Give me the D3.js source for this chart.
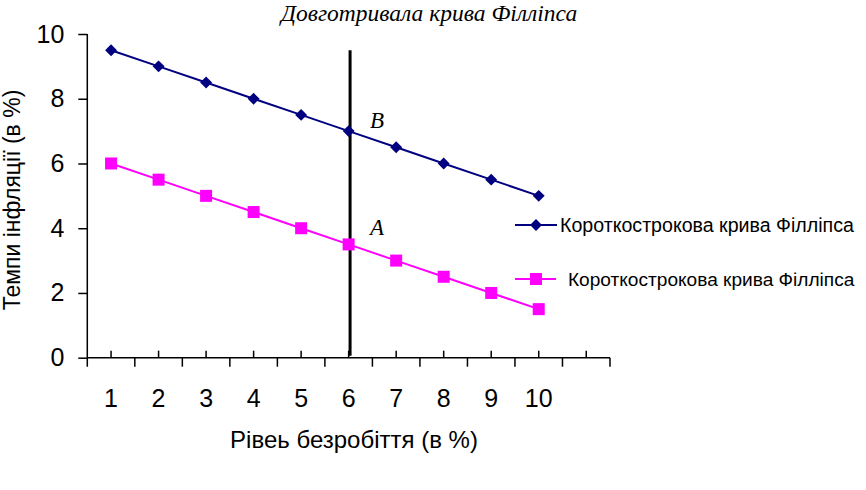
<!DOCTYPE html>
<html>
<head>
<meta charset="utf-8">
<script src="https://cdn.jsdelivr.net/npm/d3@7"></script>
<style>
  body { margin: 0; background: #fff; }
  text { font-family: "Liberation Sans", Arial, sans-serif; }
  .serif { font-family: "Liberation Serif", "Times New Roman", serif; font-style: italic; }
</style>
</head>
<body>
<div id="chart"></div>
<script>
// chart data
var categories = [1, 2, 3, 4, 5, 6, 7, 8, 9, 10];
var shortRun1 = [9.5, 9, 8.5, 8, 7.5, 7, 6.5, 6, 5.5, 5];
var shortRun2 = [6, 5.5, 5, 4.5, 4, 3.5, 3, 2.5, 2, 1.5];
var yTicks = [0, 2, 4, 6, 8, 10];
var longRunX = 6.03;
var longRunTop = 9.5;
var seriesNames = ["Короткострокова крива Філліпса", "Короткострокова крива Філліпса"];

function init() {
  var w = 866, h = 490;

  var svg = d3.select("#chart").append("svg")
    .attr("width", w)
    .attr("height", h);

  // 11 category slots, the last one is empty
  var xScale = d3.scaleLinear().domain([0.5, 11.5]).range([87.3, 610]);
  var yScale = d3.scaleLinear().domain([0, 10]).range([357.7, 34]);

  // y axis
  var yAxis = d3.axisLeft(yScale).tickValues(yTicks).tickSize(9).tickPadding(14);
  var gy = svg.append("g")
    .attr("transform", "translate(" + xScale(0.5) + ",0)")
    .call(yAxis);
  gy.select(".domain").attr("d", "M0," + yScale(10) + "V" + (yScale(0) + 9));
  gy.selectAll("line").attr("stroke", "#000").attr("stroke-width", 1.5);
  gy.select(".domain").attr("stroke", "#000").attr("stroke-width", 1.5);
  gy.selectAll("text").attr("font-size", 25).attr("fill", "#000")
    .attr("font-family", "'Liberation Sans', Arial, sans-serif");

  // x axis: short ticks up at category centres, longer ticks down at boundaries
  var gx = svg.append("g").attr("transform", "translate(0," + yScale(0) + ")");
  gx.append("line")
    .attr("x1", xScale(0.5)).attr("x2", xScale(11.5))
    .attr("stroke", "#000").attr("stroke-width", 1.5);
  var bounds = d3.range(1.5, 11.6, 1);
  gx.selectAll("line.down").data(bounds).enter().append("line")
    .attr("class", "down")
    .attr("x1", function(d) { return xScale(d); })
    .attr("x2", function(d) { return xScale(d); })
    .attr("y1", 0).attr("y2", 9)
    .attr("stroke", "#000").attr("stroke-width", 1.5);
  gx.selectAll("line.up").data(d3.range(1, 12)).enter().append("line")
    .attr("class", "up")
    .attr("x1", function(d) { return xScale(d); })
    .attr("x2", function(d) { return xScale(d); })
    .attr("y1", 0).attr("y2", -7)
    .attr("stroke", "#000").attr("stroke-width", 1.5);
  gx.selectAll("text").data(categories).enter().append("text")
    .attr("x", function(d) { return xScale(d); })
    .attr("y", 49)
    .attr("text-anchor", "middle")
    .attr("font-size", 25)
    .text(function(d) { return d; });

  // long-run Phillips curve
  svg.append("line")
    .attr("x1", xScale(longRunX)).attr("x2", xScale(longRunX))
    .attr("y1", yScale(0) - 2).attr("y2", yScale(longRunTop))
    .attr("stroke", "#000").attr("stroke-width", 3);

  var line = d3.line()
    .x(function(d, i) { return xScale(categories[i]); })
    .y(function(d) { return yScale(d); });

  svg.append("path").datum(shortRun1)
    .attr("fill", "none").attr("stroke", "#000080").attr("stroke-width", 2)
    .attr("d", line);
  svg.append("path").datum(shortRun2)
    .attr("fill", "none").attr("stroke", "#ff00ff").attr("stroke-width", 2)
    .attr("d", line);

  var diamond = d3.symbol().type(d3.symbolDiamond2).size(90);
  svg.selectAll("path.dia").data(shortRun1).enter().append("path")
    .attr("class", "dia")
    .attr("d", diamond)
    .attr("transform", function(d, i) { return "translate(" + xScale(categories[i]) + "," + yScale(d) + ")"; })
    .attr("fill", "#000080");
  svg.selectAll("rect.sq").data(shortRun2).enter().append("rect")
    .attr("class", "sq")
    .attr("x", function(d, i) { return xScale(categories[i]) - 6; })
    .attr("y", function(d) { return yScale(d) - 6; })
    .attr("width", 12).attr("height", 12)
    .attr("fill", "#ff00ff");

  // point labels
  svg.append("text").attr("class", "serif")
    .attr("x", 370).attr("y", 128).attr("font-size", 23).text("B");
  svg.append("text").attr("class", "serif")
    .attr("x", 370).attr("y", 235).attr("font-size", 23).text("A");

  // title
  svg.append("text").attr("class", "serif")
    .attr("x", 281).attr("y", 21).attr("font-size", 23.5)
    .text("Довготривала крива Філліпса");

  // axis titles
  svg.append("text")
    .attr("x", 354).attr("y", 448)
    .attr("text-anchor", "middle").attr("font-size", 24)
    .text("Рівеь безробіття (в %)");
  svg.append("text")
    .attr("transform", "translate(20,200) rotate(-90)")
    .attr("text-anchor", "middle").attr("font-size", 23)
    .text("Темпи інфляції (в %)");

  // legend
  var lg1 = svg.append("g").attr("transform", "translate(0,225)");
  lg1.append("line").attr("x1", 515).attr("x2", 557)
    .attr("stroke", "#000080").attr("stroke-width", 2);
  lg1.append("path").attr("d", diamond)
    .attr("transform", "translate(536,0)").attr("fill", "#000080");
  lg1.append("text").attr("x", 560).attr("y", 7).attr("font-size", 19.6).text(seriesNames[0]);

  var lg2 = svg.append("g").attr("transform", "translate(0,279)");
  lg2.append("line").attr("x1", 515).attr("x2", 556)
    .attr("stroke", "#ff00ff").attr("stroke-width", 2);
  lg2.append("rect").attr("x", 530).attr("y", -6).attr("width", 12).attr("height", 12)
    .attr("fill", "#ff00ff");
  lg2.append("text").attr("x", 568).attr("y", 7).attr("font-size", 19.1).text(seriesNames[1]);
}

window.onload = init;
</script>
</body>
</html>
